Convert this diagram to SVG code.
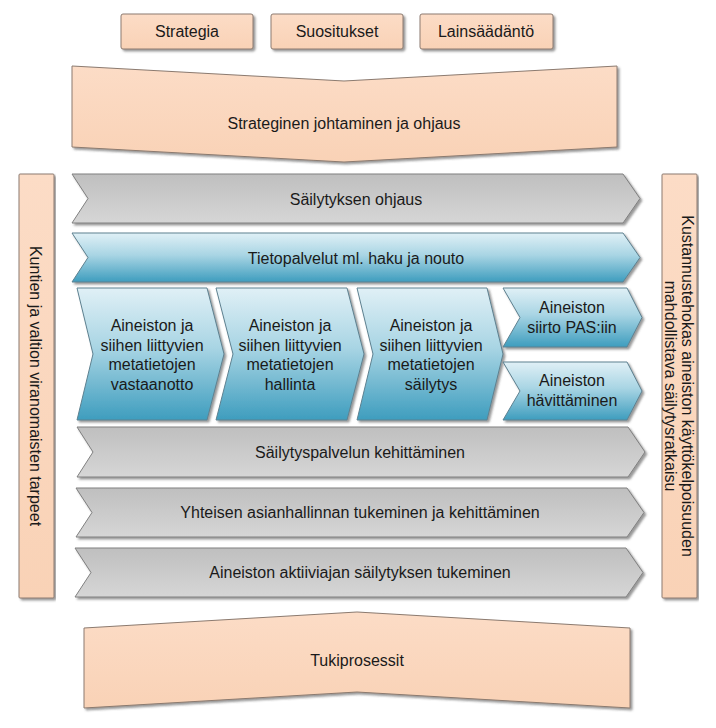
<svg xmlns="http://www.w3.org/2000/svg" width="716" height="728" viewBox="0 0 716 728">
<defs>
<linearGradient id="peach" x1="0" y1="0" x2="0" y2="1"><stop offset="0" stop-color="#fcdcc6"/><stop offset="1" stop-color="#f9d2b6"/></linearGradient>
<linearGradient id="gray" x1="0" y1="0" x2="0" y2="1"><stop offset="0" stop-color="#bfbfbf"/><stop offset="1" stop-color="#d6d6d6"/></linearGradient>
<linearGradient id="blue" x1="0" y1="0" x2="0" y2="1"><stop offset="0" stop-color="#e0f0f6"/><stop offset="0.45" stop-color="#a9d5e4"/><stop offset="1" stop-color="#3e9dbe"/></linearGradient>
<filter id="sh" x="-5%" y="-10%" width="110%" height="125%"><feDropShadow dx="2" dy="2" stdDeviation="1" flood-color="#444" flood-opacity="0.55"/></filter>
</defs>
<style>
.p{fill:url(#peach);stroke:#8c7b70;stroke-width:1;filter:url(#sh)}
.g{fill:url(#gray);stroke:#808080;stroke-width:1;filter:url(#sh)}
.b{fill:url(#blue);stroke:#5e8190;stroke-width:1;filter:url(#sh)}
text{font-family:"Liberation Sans",Arial,sans-serif;font-size:16px;fill:#1a1a1a;text-anchor:middle}
</style>
<g id="strategia"><rect class="p" x="121" y="14" width="132" height="35" rx="2"/><text x="187" y="37">Strategia</text></g>
<g id="suositukset"><rect class="p" x="271" y="14" width="132" height="35" rx="2"/><text x="337" y="37">Suositukset</text></g>
<g id="lainsaadanto"><rect class="p" x="420" y="14" width="133" height="35" rx="2"/><text x="486" y="37">Lainsäädäntö</text></g>
<g id="strateginen"><path class="p" d="M72,66 L344,81 L617,66 L617,147 L344,162 L72,147 Z"/><text x="344" y="129">Strateginen johtaminen ja ohjaus</text></g>
<g id="kuntien"><rect class="p" x="19" y="174" width="35" height="424" rx="1"/><text transform="translate(36,386) rotate(90)" y="6">Kuntien ja valtion viranomaisten tarpeet</text></g>
<g id="kustannus"><rect class="p" x="662" y="174" width="35" height="424" rx="1"/><text transform="translate(688,386) rotate(90)" y="6">Kustannustehokas aineiston käyttökelpoisuuden</text><text transform="translate(671,386) rotate(90)" y="6">mahdollistava säilytysratkaisu</text></g>
<g id="sailytyksen-ohjaus"><path class="g" d="M72,174 L623,174 L640,198.5 L623,223 L72,223 L88,198.5 Z"/><text x="356" y="204.5">Säilytyksen ohjaus</text></g>
<g id="tietopalvelut"><path class="b" d="M72,233 L623,233 L640,257.5 L623,282 L72,282 L88,257.5 Z"/><text x="356" y="263.5">Tietopalvelut ml. haku ja nouto</text></g>
<g id="vastaanotto"><path class="b" d="M77,288 L207,288 L224,354 L207,420 L77,420 L93,354 Z"/><text x="152" y="331">Aineiston ja</text><text x="152" y="350.5">siihen liittyvien</text><text x="152" y="370">metatietojen</text><text x="152" y="389.5">vastaanotto</text></g>
<g id="hallinta"><path class="b" d="M216,288 L347,288 L364,354 L347,420 L216,420 L233,354 Z"/><text x="290" y="331">Aineiston ja</text><text x="290" y="350.5">siihen liittyvien</text><text x="290" y="370">metatietojen</text><text x="290" y="389.5">hallinta</text></g>
<g id="sailytys"><path class="b" d="M357,288 L487,288 L503,354 L487,420 L357,420 L373,354 Z"/><text x="431" y="331">Aineiston ja</text><text x="431" y="350.5">siihen liittyvien</text><text x="431" y="370">metatietojen</text><text x="431" y="389.5">säilytys</text></g>
<g id="siirto"><path class="b" d="M503,288 L627,288 L642,317.5 L627,347 L503,347 L520,317.5 Z"/><text x="572" y="313">Aineiston</text><text x="572" y="332.5">siirto PAS:iin</text></g>
<g id="havittaminen"><path class="b" d="M503,362 L627,362 L642,391 L627,420 L503,420 L520,391 Z"/><text x="572" y="386">Aineiston</text><text x="572" y="405.5">hävittäminen</text></g>
<g id="kehittaminen"><path class="g" d="M77,427 L628,427 L645,452 L628,477 L77,477 L93,452 Z"/><text x="360" y="457.5">Säilytyspalvelun kehittäminen</text></g>
<g id="asianhallinta"><path class="g" d="M76,488 L627,488 L644,512.5 L627,537 L76,537 L92,512.5 Z"/><text x="360" y="518">Yhteisen asianhallinnan tukeminen ja kehittäminen</text></g>
<g id="aktiiviaika"><path class="g" d="M75,548 L626,548 L643,572.5 L626,597 L75,597 L91,572.5 Z"/><text x="360" y="578">Aineiston aktiiviajan säilytyksen tukeminen</text></g>
<g id="tukiprosessit"><path class="p" d="M84,628 L357,612 L630,628 L630,708 L357,692 L84,708 Z"/><text x="357" y="666">Tukiprosessit</text></g>
<g id="connectors"/>
</svg>
